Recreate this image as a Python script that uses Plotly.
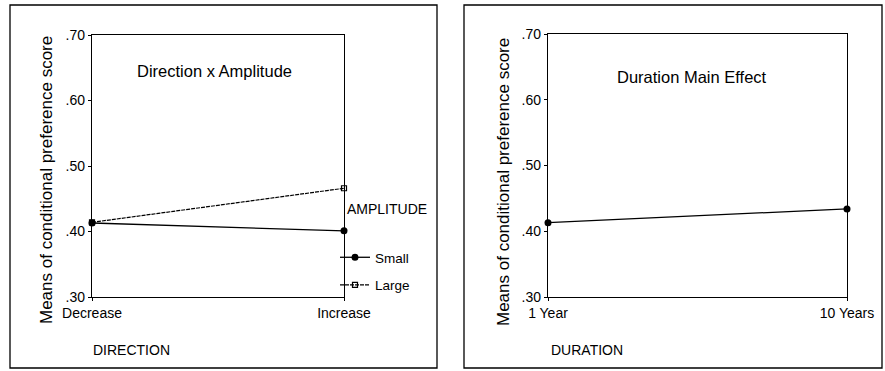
import plotly.graph_objects as go

W, H = 885, 371

# ---- data ----
direction_cats = ["Decrease", "Increase"]
amp_small = [0.413, 0.401]
amp_large = [0.414, 0.466]
duration_cats = ["1 Year", "10 Years"]
duration_means = [0.413, 0.434]
y_tickvals = [0.30, 0.40, 0.50, 0.60, 0.70]
y_ticktext = [".30", ".40", ".50", ".60", ".70"]

def px_x(p):
    return p / W

def px_y(p):
    return 1 - p / H

FONT = "Liberation Sans, Arial, sans-serif"

fig = go.Figure()

fig.add_trace(go.Scatter(
    x=direction_cats, y=amp_small, name="Small", mode="lines+markers",
    legendgroup="s",
    line=dict(color="black", width=1.3),
    marker=dict(symbol="circle", size=7, color="black"),
    xaxis="x", yaxis="y", cliponaxis=False,
))
fig.add_trace(go.Scatter(
    x=direction_cats, y=amp_large, name="Large", mode="lines+markers",
    legendgroup="l",
    line=dict(color="black", width=1.2, dash="4px,1px"),
    marker=dict(symbol="square-open", size=5, color="black", line=dict(width=1.2)),
    xaxis="x", yaxis="y", cliponaxis=False,
))
fig.add_trace(go.Scatter(
    x=duration_cats, y=duration_means, name="Duration", mode="lines+markers",
    line=dict(color="black", width=1.3),
    marker=dict(symbol="circle", size=7, color="black"),
    xaxis="x2", yaxis="y2", cliponaxis=False, showlegend=False,
))

axis_common = dict(
    showline=True, linecolor="black", linewidth=1.3, mirror=True,
    ticks="outside", ticklen=3, tickcolor="black", tickwidth=1.3,
    showgrid=False, zeroline=False, automargin=False,
    tickfont=dict(family=FONT, size=14, color="black"),
)

fig.update_layout(
    width=W, height=H,
    margin=dict(l=0, r=0, t=0, b=0, pad=0, autoexpand=False),
    paper_bgcolor="white", plot_bgcolor="white",
    font=dict(family=FONT, size=14, color="black"),
    xaxis=dict(domain=[px_x(92), px_x(344)], type="category", range=[0, 1],
               anchor="y", ticklabelstandoff=0, **axis_common),
    yaxis=dict(domain=[px_y(297), px_y(35)], range=[0.3, 0.7],
               tickvals=y_tickvals, ticktext=y_ticktext, anchor="x",
               ticklabelstandoff=0, **axis_common),
    xaxis2=dict(domain=[px_x(548), px_x(847)], type="category", range=[0, 1],
                anchor="y2", ticklabelstandoff=0, **axis_common),
    yaxis2=dict(domain=[px_y(297), px_y(34)], range=[0.3, 0.7],
                tickvals=y_tickvals, ticktext=y_ticktext, anchor="x2",
                ticklabelstandoff=0, **axis_common),
    showlegend=True,
    legend=dict(
        x=px_x(335), y=px_y(242), xanchor="left", yanchor="top",
        bgcolor="rgba(0,0,0,0)", borderwidth=0,
        font=dict(family=FONT, size=13.5), itemwidth=30,
        traceorder="grouped", tracegroupgap=7,
    ),
)

# outer panel frames
for x0, x1 in [(10, 437), (464, 882)]:
    fig.add_shape(type="rect", xref="paper", yref="paper",
                  x0=px_x(x0), x1=px_x(x1), y0=px_y(368), y1=px_y(5),
                  line=dict(color="black", width=1.3))

annots = [
    ("Direction x Amplitude", 214, 71, 0, 16.5, "center"),
    ("Duration Main Effect", 692, 77, 0, 16.5, "center"),
    ("DIRECTION", 131, 350, 0, 14, "center"),
    ("DURATION", 587, 350, 0, 14, "center"),
    ("Means of conditional preference score", 46, 180, -90, 17, "center"),
    ("Means of conditional preference score", 503, 182, -90, 17, "center"),
]
for text, x, y, ang, sz, anc in annots:
    fig.add_annotation(text=text, xref="paper", yref="paper",
                       x=px_x(x), y=px_y(y), xanchor=anc, yanchor="middle",
                       textangle=ang, showarrow=False,
                       font=dict(family=FONT, size=sz, color="black"))

# legend title
fig.add_annotation(text="AMPLITUDE", xref="paper", yref="paper",
                   x=px_x(345), y=px_y(209), xanchor="left", yanchor="middle",
                   showarrow=False, font=dict(family=FONT, size=14, color="black"))

fig.write_html("out.html")
